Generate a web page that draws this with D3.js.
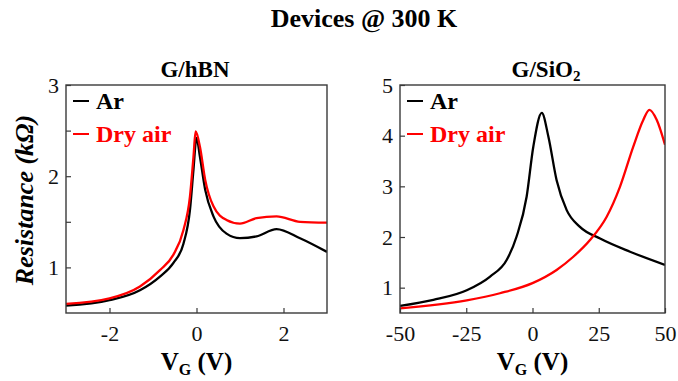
<!DOCTYPE html>
<html>
<head>
<meta charset="utf-8">
<script src="https://cdn.jsdelivr.net/npm/d3@7"></script>
<style>
body { margin: 0; background: #fff; }
</style>
</head>
<body>
<svg id="chart" width="678" height="381"></svg>
<script>
// G/hBN panel, gate voltage (V) vs resistance (kOhm)
var hbnArV = [-3, -2, -1.3, -0.84, -0.53, -0.3, -0.15, -0.07, 0, 0.08, 0.2, 0.39, 0.69, 1.0, 1.38, 1.84, 2.38, 3];
var hbnArR = [0.58, 0.64, 0.75, 0.90, 1.05, 1.26, 1.63, 2.07, 2.42, 2.21, 1.85, 1.56, 1.37, 1.32, 1.34, 1.42, 1.32, 1.17];
var hbnAirV = [-3, -2, -1.3, -0.84, -0.53, -0.3, -0.15, -0.07, -0.02, 0.08, 0.2, 0.39, 0.69, 1.0, 1.38, 1.84, 2.38, 3];
var hbnAirR = [0.6, 0.66, 0.79, 0.97, 1.14, 1.41, 1.78, 2.21, 2.49, 2.32, 1.96, 1.67, 1.52, 1.48, 1.54, 1.56, 1.50, 1.49];

// G/SiO2 panel
var sioArV = [-50, -37.4, -24.8, -16, -9.7, -6, -2.2, 0.3, 3.5, 6, 9.1, 12.9, 17.9, 25.5, 36.8, 50];
var sioArR = [0.64, 0.76, 0.95, 1.22, 1.55, 2.01, 2.80, 3.78, 4.45, 3.98, 3.12, 2.53, 2.20, 1.97, 1.71, 1.45];
var sioAirV = [-50, -24.8, -12.3, 0, 9.1, 15.4, 21.7, 28, 33, 38, 41.8, 44.1, 46.9, 50];
var sioAirR = [0.59, 0.75, 0.89, 1.09, 1.35, 1.61, 1.94, 2.40, 2.99, 3.78, 4.31, 4.51, 4.31, 3.82];

var legendNames = ["Ar", "Dry air"];
var colors = ["#000000", "#ff0000"];
var serif = "'Liberation Serif', 'Times New Roman', serif";

var svg = d3.select("#chart");

svg.append("text")
    .attr("x", 364).attr("y", 27)
    .attr("text-anchor", "middle")
    .style("font-family", serif)
    .style("font-weight", "bold")
    .style("font-size", "26px")
    .text("Devices @ 300 K");

function zip(xs, ys) {
    return xs.map(function (x, i) { return [x, ys[i]]; });
}

function panel(opt) {
    var x = d3.scaleLinear().domain(opt.xDomain).range([opt.left, opt.right]);
    var y = d3.scaleLinear().domain(opt.yDomain).range([313, 85]);
    var g = svg.append("g");

    g.append("clipPath").attr("id", opt.id)
        .append("rect")
        .attr("x", opt.left).attr("y", 85)
        .attr("width", opt.right - opt.left).attr("height", 228);

    var line = d3.line()
        .x(function (d) { return x(d[0]); })
        .y(function (d) { return y(d[1]); })
        .curve(d3.curveMonotoneX);

    opt.series.forEach(function (s, i) {
        g.append("path")
            .datum(s)
            .attr("clip-path", "url(#" + opt.id + ")")
            .attr("fill", "none")
            .attr("stroke", colors[i])
            .attr("stroke-width", 2.3)
            .attr("d", line);
    });

    // frame
    g.append("rect")
        .attr("x", opt.left).attr("y", 85)
        .attr("width", opt.right - opt.left).attr("height", 228)
        .attr("fill", "none")
        .attr("stroke", "#3a3a3a")
        .attr("stroke-width", 1.4);

    // ticks point inwards
    var xAxis = g.append("g").attr("transform", "translate(0,313)")
        .call(d3.axisBottom(x).tickValues(opt.xTicks).tickSizeInner(-5).tickSizeOuter(0).tickPadding(12)
            .tickFormat(function (d) { return d < 0 ? "-" + Math.abs(d) : d; }));
    var yAxis = g.append("g").attr("transform", "translate(" + opt.left + ",0)")
        .call(d3.axisLeft(y).tickValues(opt.yTicks).tickSizeInner(-5).tickSizeOuter(0).tickPadding(7)
            .tickFormat(function (d) { return d % 1 === 0 ? d : ""; }));
    [xAxis, yAxis].forEach(function (a) {
        a.select(".domain").remove();
        a.selectAll("line").attr("stroke", "#3a3a3a").attr("stroke-width", 1.2);
        a.selectAll("text")
            .style("font-family", serif)
            .style("font-size", "22px")
            .attr("fill", "#111");
    });

    // panel title
    var t = g.append("text")
        .attr("x", opt.titleX).attr("y", 77)
        .attr("text-anchor", "middle")
        .style("font-family", serif)
        .style("font-weight", "bold")
        .style("font-size", "23px");
    t.append("tspan").text(opt.title[0]);
    if (opt.title[1]) {
        t.append("tspan").style("font-size", "15px").attr("dy", 4).text(opt.title[1]);
    }

    // x label
    var xl = g.append("text")
        .attr("x", (opt.left + opt.right) / 2).attr("y", 370)
        .attr("text-anchor", "middle")
        .style("font-family", serif)
        .style("font-weight", "bold")
        .style("font-size", "25px");
    xl.append("tspan").text("V");
    xl.append("tspan").style("font-size", "16px").attr("dy", 5).text("G");
    xl.append("tspan").attr("dy", -5).text(" (V)");

    // legend
    legendNames.forEach(function (name, i) {
        var ly = 101 + i * 33;
        g.append("line")
            .attr("x1", opt.left + 7).attr("x2", opt.left + 23)
            .attr("y1", ly).attr("y2", ly)
            .attr("stroke", colors[i]).attr("stroke-width", 2);
        g.append("text")
            .attr("x", opt.left + 30).attr("y", ly + 8)
            .style("font-family", serif)
            .style("font-weight", "bold")
            .style("font-size", "24px")
            .attr("fill", colors[i])
            .text(name);
    });
}

panel({
    id: "clipL", left: 66, right: 327, titleX: 195,
    xDomain: [-3, 3], yDomain: [0.5, 3],
    xTicks: [-2, 0, 2], yTicks: [1, 1.5, 2, 2.5, 3],
    title: ["G/hBN"],
    series: [zip(hbnArV, hbnArR), zip(hbnAirV, hbnAirR)]
});

panel({
    id: "clipR", left: 400, right: 665, titleX: 546,
    xDomain: [-50, 50], yDomain: [0.5, 5],
    xTicks: [-50, -25, 0, 25, 50], yTicks: [1, 2, 3, 4, 5],
    title: ["G/SiO", "2"],
    series: [zip(sioArV, sioArR), zip(sioAirV, sioAirR)]
});

// shared y label
var yl = svg.append("text")
    .attr("transform", "translate(33,200) rotate(-90)")
    .attr("text-anchor", "middle")
    .style("font-family", serif)
    .style("font-weight", "bold")
    .style("font-style", "italic")
    .style("font-size", "26px");
yl.append("tspan").text("Resistance (");
yl.append("tspan").text("kΩ");
yl.append("tspan").text(")");
</script>
</body>
</html>
